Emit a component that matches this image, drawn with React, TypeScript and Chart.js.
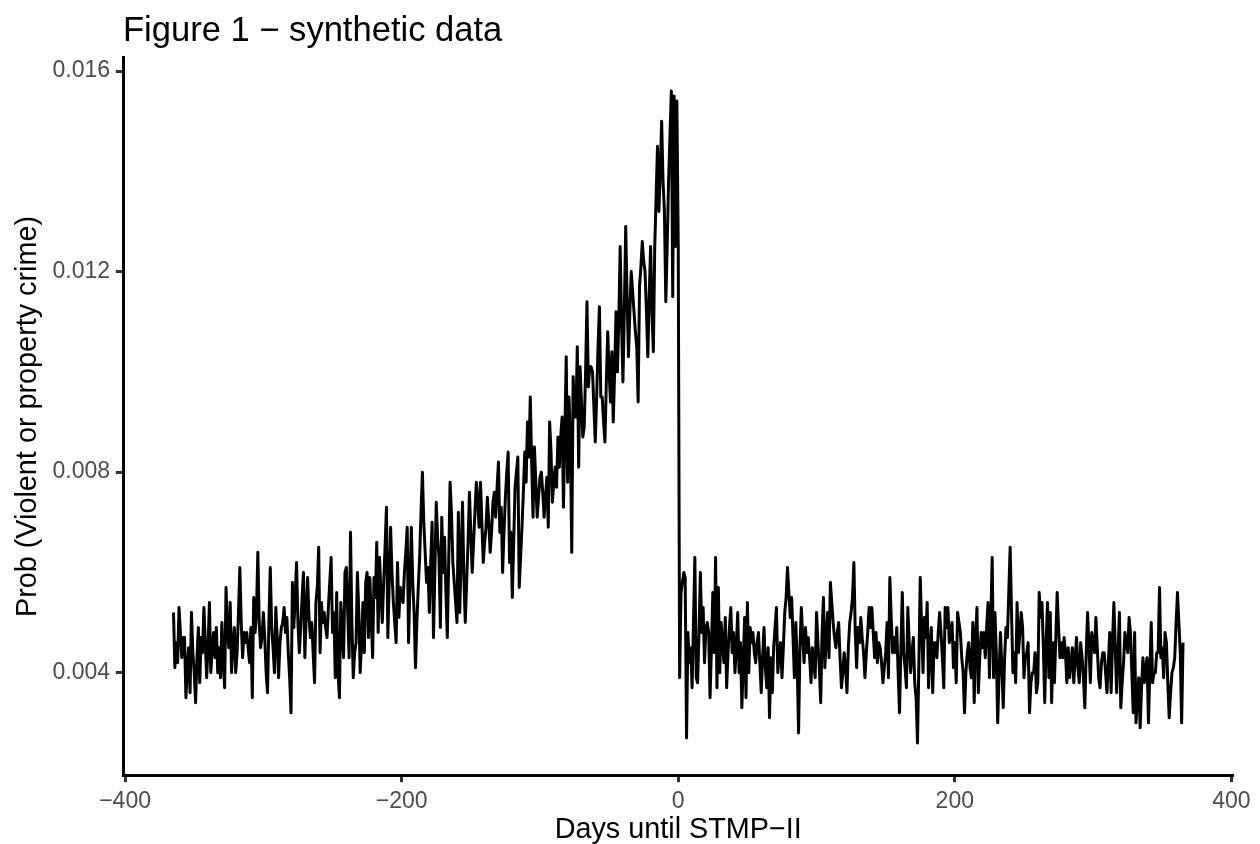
import React, { useEffect, useRef } from "react";
import { Chart, registerables } from "chart.js";

Chart.register(...registerables);

const chartTitle = "Figure 1 \u2212 synthetic data";
const xAxisTitle = "Days until STMP\u2212II";
const yAxisTitle = "Prob (Violent or property crime)";

// first day of the series; one value per day
const firstDay = -365;

// days -365 .. 0
const probBefore = [
  0.0052, 0.0041, 0.0046, 0.0042, 0.0053, 0.0048, 0.0043, 0.0047, 0.0047, 0.0035,
  0.0041, 0.0045, 0.0036, 0.0052, 0.0044, 0.0040, 0.0034, 0.0043, 0.0049, 0.0038,
  0.0047, 0.0044, 0.0053, 0.0046, 0.0039, 0.0045, 0.0054, 0.0040, 0.0045, 0.0048,
  0.0043, 0.0049, 0.0040, 0.0045, 0.0039, 0.0050, 0.0042, 0.0037, 0.0057, 0.0048,
  0.0045, 0.0054, 0.0040, 0.0046, 0.0049, 0.0040, 0.0044, 0.0052, 0.0061, 0.0050,
  0.0043, 0.0048, 0.0046, 0.0048, 0.0045, 0.0042, 0.0049, 0.0035, 0.0055, 0.0048,
  0.0052, 0.0064, 0.0050, 0.0045, 0.0047, 0.0052, 0.0047, 0.0040, 0.0036, 0.0050,
  0.0061, 0.0049, 0.0045, 0.0040, 0.0053, 0.0047, 0.0039, 0.0046, 0.0049, 0.0050,
  0.0053, 0.0048, 0.0051, 0.0044, 0.0039, 0.0032, 0.0058, 0.0049, 0.0055, 0.0062,
  0.0050, 0.0044, 0.0049, 0.0055, 0.0060, 0.0043, 0.0052, 0.0059, 0.0051, 0.0047,
  0.0050, 0.0044, 0.0038, 0.0054, 0.0057, 0.0065, 0.0044, 0.0054, 0.0050, 0.0052,
  0.0049, 0.0047, 0.0053, 0.0058, 0.0063, 0.0048, 0.0052, 0.0039, 0.0056, 0.0040,
  0.0035, 0.0054, 0.0048, 0.0043, 0.0060, 0.0061, 0.0052, 0.0043, 0.0068, 0.0050,
  0.0039, 0.0044, 0.0046, 0.0060, 0.0052, 0.0040, 0.0046, 0.0054, 0.0044, 0.0058,
  0.0060, 0.0047, 0.0059, 0.0051, 0.0043, 0.0059, 0.0055, 0.0066, 0.0048, 0.0063,
  0.0056, 0.0050, 0.0058, 0.0065, 0.0073, 0.0047, 0.0058, 0.0069, 0.0060, 0.0054,
  0.0050, 0.0046, 0.0062, 0.0051, 0.0057, 0.0055, 0.0054, 0.0060, 0.0064, 0.0069,
  0.0046, 0.0058, 0.0069, 0.0058, 0.0052, 0.0041, 0.0050, 0.0057, 0.0063, 0.0072,
  0.0080, 0.0070, 0.0064, 0.0058, 0.0061, 0.0052, 0.0062, 0.0070, 0.0047, 0.0060,
  0.0074, 0.0067, 0.0063, 0.0049, 0.0071, 0.0060, 0.0067, 0.0056, 0.0047, 0.0062,
  0.0078, 0.0072, 0.0062, 0.0058, 0.0054, 0.0050, 0.0072, 0.0052, 0.0063, 0.0074,
  0.0059, 0.0050, 0.0058, 0.0066, 0.0076, 0.0068, 0.0060, 0.0066, 0.0072, 0.0078,
  0.0074, 0.0069, 0.0078, 0.0070, 0.0062, 0.0066, 0.0069, 0.0075, 0.0070, 0.0064,
  0.0068, 0.0074, 0.0076, 0.0071, 0.0077, 0.0082, 0.0068, 0.0073, 0.0060, 0.0068,
  0.0075, 0.0080, 0.0084, 0.0062, 0.0068, 0.0055, 0.0066, 0.0077, 0.0080, 0.0083,
  0.0057, 0.0063, 0.0069, 0.0076, 0.0084, 0.0078, 0.0090, 0.0083, 0.0095, 0.0082,
  0.0071, 0.0085, 0.0078, 0.0071, 0.0075, 0.0079, 0.0080, 0.0076, 0.0071, 0.0075,
  0.0079, 0.0069, 0.0090, 0.0084, 0.0074, 0.0078, 0.0081, 0.0077, 0.0087, 0.0081,
  0.0087, 0.0091, 0.0073, 0.0088, 0.0103, 0.0078, 0.0095, 0.0086, 0.0064, 0.0099,
  0.0091, 0.0091, 0.0105, 0.0081, 0.0101, 0.0094, 0.0087, 0.0089, 0.0100, 0.0114,
  0.0097, 0.0101, 0.0101, 0.0100, 0.0093, 0.0086, 0.0095, 0.0105, 0.0113, 0.0095,
  0.0095, 0.0090, 0.0086, 0.0098, 0.0108, 0.0100, 0.0094, 0.0104, 0.0090, 0.0100,
  0.0112, 0.0100, 0.0110, 0.0125, 0.0110, 0.0098, 0.0112, 0.0129, 0.0115, 0.0103,
  0.0112, 0.0120, 0.0116, 0.0112, 0.0108, 0.0105, 0.0094, 0.0117, 0.0121, 0.0126,
  0.0122, 0.0120, 0.0112, 0.0103, 0.0115, 0.0125, 0.0112, 0.0104, 0.0125, 0.0135,
  0.0145, 0.0132, 0.0140, 0.0150, 0.0138, 0.0132, 0.0114, 0.0125, 0.0138, 0.0147,
  0.0156, 0.0115, 0.0155, 0.0125, 0.0154, 0.0125,
];

// days 1 .. 365
const probAfter = [
  0.0039, 0.0056, 0.0058, 0.0060, 0.0059, 0.0027, 0.0048, 0.0042, 0.0045, 0.0037,
  0.0050, 0.0063, 0.0039, 0.0038, 0.0048, 0.0060, 0.0048, 0.0053, 0.0042, 0.0049,
  0.0050, 0.0048, 0.0035, 0.0045, 0.0056, 0.0044, 0.0063, 0.0037, 0.0057, 0.0040,
  0.0050, 0.0046, 0.0042, 0.0051, 0.0037, 0.0044, 0.0049, 0.0053, 0.0044, 0.0048,
  0.0040, 0.0045, 0.0052, 0.0040, 0.0046, 0.0033, 0.0042, 0.0051, 0.0035, 0.0054,
  0.0040, 0.0049, 0.0046, 0.0048, 0.0044, 0.0042, 0.0046, 0.0048, 0.0042, 0.0036,
  0.0043, 0.0049, 0.0041, 0.0037, 0.0045, 0.0031, 0.0043, 0.0036, 0.0045, 0.0049,
  0.0053, 0.0040, 0.0044, 0.0046, 0.0039, 0.0045, 0.0052, 0.0055, 0.0061, 0.0056,
  0.0051, 0.0055, 0.0047, 0.0039, 0.0050, 0.0042, 0.0028, 0.0045, 0.0053, 0.0047,
  0.0042, 0.0049, 0.0044, 0.0047, 0.0043, 0.0038, 0.0045, 0.0042, 0.0039, 0.0052,
  0.0046, 0.0041, 0.0034, 0.0048, 0.0055, 0.0041, 0.0047, 0.0052, 0.0043, 0.0058,
  0.0054, 0.0050, 0.0047, 0.0045, 0.0048, 0.0050, 0.0043, 0.0037, 0.0040, 0.0044,
  0.0041, 0.0036, 0.0045, 0.0050, 0.0052, 0.0055, 0.0062, 0.0048, 0.0041, 0.0049,
  0.0046, 0.0051, 0.0047, 0.0044, 0.0039, 0.0044, 0.0048, 0.0053, 0.0049, 0.0053,
  0.0048, 0.0043, 0.0048, 0.0042, 0.0046, 0.0045, 0.0042, 0.0038, 0.0041, 0.0044,
  0.0050, 0.0039, 0.0059, 0.0051, 0.0044, 0.0047, 0.0044, 0.0049, 0.0040, 0.0032,
  0.0045, 0.0056, 0.0044, 0.0041, 0.0037, 0.0053, 0.0046, 0.0040, 0.0044, 0.0047,
  0.0038, 0.0035, 0.0026, 0.0042, 0.0059, 0.0049, 0.0040, 0.0051, 0.0047, 0.0054,
  0.0037, 0.0045, 0.0049, 0.0036, 0.0046, 0.0046, 0.0043, 0.0048, 0.0052, 0.0048,
  0.0043, 0.0037, 0.0053, 0.0049, 0.0053, 0.0046, 0.0048, 0.0050, 0.0041, 0.0046,
  0.0038, 0.0052, 0.0050, 0.0048, 0.0043, 0.0040, 0.0032, 0.0040, 0.0044, 0.0046,
  0.0041, 0.0039, 0.0050, 0.0034, 0.0047, 0.0053, 0.0036, 0.0043, 0.0048, 0.0045,
  0.0048, 0.0043, 0.0049, 0.0054, 0.0039, 0.0050, 0.0063, 0.0039, 0.0052, 0.0044,
  0.0030, 0.0040, 0.0048, 0.0041, 0.0033, 0.0043, 0.0049, 0.0047, 0.0056, 0.0065,
  0.0052, 0.0040, 0.0044, 0.0038, 0.0054, 0.0044, 0.0048, 0.0052, 0.0049, 0.0039,
  0.0043, 0.0044, 0.0046, 0.0032, 0.0038, 0.0040, 0.0040, 0.0044, 0.0036, 0.0038,
  0.0056, 0.0051, 0.0054, 0.0045, 0.0034, 0.0046, 0.0054, 0.0039, 0.0052, 0.0034,
  0.0046, 0.0038, 0.0047, 0.0056, 0.0049, 0.0043, 0.0046, 0.0043, 0.0047, 0.0044,
  0.0038, 0.0045, 0.0039, 0.0042, 0.0045, 0.0038, 0.0043, 0.0047, 0.0041, 0.0038,
  0.0046, 0.0043, 0.0039, 0.0033, 0.0044, 0.0052, 0.0045, 0.0038, 0.0048, 0.0046,
  0.0044, 0.0051, 0.0045, 0.0039, 0.0037, 0.0042, 0.0044, 0.0044, 0.0040, 0.0036,
  0.0042, 0.0048, 0.0036, 0.0046, 0.0054, 0.0045, 0.0036, 0.0044, 0.0052, 0.0033,
  0.0038, 0.0042, 0.0048, 0.0046, 0.0044, 0.0051, 0.0048, 0.0040, 0.0032, 0.0048,
  0.0030, 0.0035, 0.0039, 0.0029, 0.0037, 0.0043, 0.0038, 0.0041, 0.0043, 0.0030,
  0.0040, 0.0050, 0.0038, 0.0040, 0.0040, 0.0044, 0.0044, 0.0057, 0.0043, 0.0045,
  0.0039, 0.0048, 0.0046, 0.0038, 0.0031, 0.0036, 0.0040, 0.0041, 0.0043, 0.0050,
  0.0056, 0.0050, 0.0044, 0.0030, 0.0046,
];

const xTickValues = [-400, -200, 0, 200, 400];
const xTickLabels = ["\u2212400", "\u2212200", "0", "200", "400"];
const yTickValues = [0.004, 0.008, 0.012, 0.016];
const yTickLabels = ["0.004", "0.008", "0.012", "0.016"];
const xLimits = [-401.5, 401.5];
const yLimits = [0.00196, 0.01626];

const FONT = "'Liberation Sans', Arial, Helvetica, sans-serif";

export default function App() {
  const canvasRef = useRef<HTMLCanvasElement | null>(null);

  useEffect(() => {
    const canvas = canvasRef.current;
    if (!canvas) return;
    const values = [...probBefore, ...probAfter];
    const points = values.map((y, i) => ({ x: firstDay + i, y }));

    const chart = new Chart(canvas, {
      type: "line",
      data: {
        datasets: [
          {
            data: points,
            borderColor: "#000000",
            borderWidth: 3,
            pointRadius: 0,
            tension: 0,
            borderJoinStyle: "round",
            fill: false,
          },
        ],
      },
      options: {
        animation: false,
        responsive: false,
        devicePixelRatio: 1,
        parsing: false,
        normalized: true,
        layout: { padding: { left: 0, right: 26.5, top: 0, bottom: 0 } },
        plugins: {
          legend: { display: false },
          tooltip: { enabled: false },
          title: {
            display: true,
            text: chartTitle,
            align: "start",
            fullSize: false,
            color: "#000000",
            font: { family: FONT, size: 34.56, weight: "normal", lineHeight: 1.2 },
            padding: { top: 11.0, bottom: 5.5 },
          },
        },
        scales: {
          x: {
            type: "linear",
            min: xLimits[0],
            max: xLimits[1],
            afterBuildTicks: (scale: any) => {
              scale.ticks = xTickValues.map((value) => ({ value }));
            },
            afterFit: (scale: any) => {
              scale.height = 69;
            },
            ticks: {
              autoSkip: false,
              maxRotation: 0,
              padding: 5.7,
              color: "#4D4D4D",
              font: { family: FONT, size: 23.04 },
              callback: (value: any) => {
                const i = xTickValues.indexOf(Number(value));
                return i >= 0 ? xTickLabels[i] : "";
              },
            },
            grid: {
              drawOnChartArea: false,
              drawTicks: true,
              tickLength: 7.2,
              tickWidth: 3,
              tickColor: "#333333",
            },
            border: { display: true, color: "#000000", width: 3 },
            title: {
              display: true,
              text: xAxisTitle,
              color: "#000000",
              font: { family: FONT, size: 28.8, lineHeight: 1.0 },
              padding: { top: 0, bottom: 0 },
            },
          },
          y: {
            type: "linear",
            min: yLimits[0],
            max: yLimits[1],
            afterBuildTicks: (scale: any) => {
              scale.ticks = yTickValues.map((value) => ({ value }));
            },
            afterFit: (scale: any) => {
              scale.width = 123;
            },
            ticks: {
              autoSkip: false,
              padding: 5.7,
              color: "#4D4D4D",
              font: { family: FONT, size: 23.04 },
              callback: (value: any) => {
                const i = yTickValues.indexOf(Number(value));
                return i >= 0 ? yTickLabels[i] : "";
              },
            },
            grid: {
              drawOnChartArea: false,
              drawTicks: true,
              tickLength: 7.2,
              tickWidth: 3,
              tickColor: "#333333",
            },
            border: { display: true, color: "#000000", width: 3 },
            title: {
              display: true,
              text: yAxisTitle,
              color: "#000000",
              font: { family: FONT, size: 28.8, lineHeight: 1.0 },
              padding: { top: 14.0, bottom: 0 },
            },
          },
        },
      },
    } as any);

    return () => {
      chart.destroy();
    };
  }, []);

  return (
    <div style={{ position: "absolute", left: 0, top: 0, width: 1260, height: 844, background: "#ffffff" }}>
      <canvas ref={canvasRef} width={1260} height={844} style={{ display: "block", width: 1260, height: 844 }} />
    </div>
  );
}
